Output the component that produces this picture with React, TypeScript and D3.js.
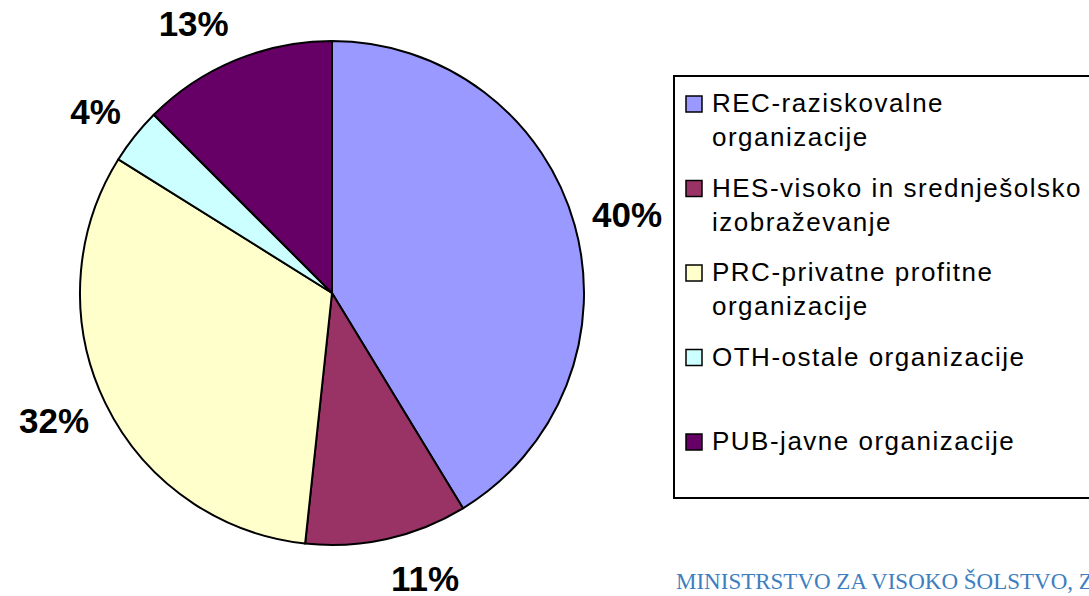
import React from 'react';
import * as d3 from 'd3';

// share of R&D per sector (labels are the printed ones)
const categories = ['REC', 'HES', 'PRC', 'OTH', 'PUB'];
const shares = [41.3, 10.4, 32.2, 3.6, 12.5];
const pctLabels = ['40%', '11%', '32%', '4%', '13%'];
const legendLines = [
    ['REC-raziskovalne', 'organizacije'],
    ['HES-visoko in srednješolsko', 'izobraževanje'],
    ['PRC-privatne profitne', 'organizacije'],
    ['OTH-ostale organizacije'],
    ['PUB-javne organizacije'],
];
const colors = ['#9999FF', '#993366', '#FFFFCC', '#CCFFFF', '#660066'];
const footer = 'MINISTRSTVO ZA VISOKO ŠOLSTVO, ZNANOST IN TEHNOLOGIJO';

const W = 1089;
const H = 596;
const cx = 332;
const cy = 293;
const R = 252;

export default function App() {
    const pie = d3.pie<number>().sort(null).value((d) => d);
    const arcs = pie(shares);
    const arc = d3.arc<d3.PieArcDatum<number>>().innerRadius(0).outerRadius(R);
    const color = d3.scaleOrdinal<string, string>().domain(categories).range(colors);

    const legendY = d3.scalePoint<string>().domain(categories).range([112, 450]);

    return (
        <svg
            width={W}
            height={H}
            style={{ position: 'absolute', left: 0, top: 0, background: '#fff' }}
            fontFamily="'Liberation Sans', Arial, sans-serif"
        >
            <g transform={`translate(${cx},${cy})`}>
                {arcs.map((a, i) => (
                    <path
                        key={categories[i]}
                        d={arc(a) || ''}
                        fill={color(categories[i])}
                        stroke="#000"
                        strokeWidth={2}
                        strokeLinejoin="round"
                    />
                ))}
                {arcs.map((a, i) => {
                    // labels sit outside the rim, hanging away from the pie
                    const mid = (a.startAngle + a.endAngle) / 2;
                    const [x] = d3.pointRadial(mid, 270);
                    const [, y] = d3.pointRadial(mid, 292);
                    return (
                        <text
                            key={'l' + i}
                            x={x}
                            y={y}
                            dy="0.36em"
                            textAnchor={Math.sin(mid) >= 0 ? 'start' : 'end'}
                            fontSize={35}
                            fontWeight="bold"
                            fill="#000"
                        >
                            {pctLabels[i]}
                        </text>
                    );
                })}
            </g>

            {/* legend */}
            <rect x={674} y={76} width={440} height={422} fill="#fff" stroke="#000" strokeWidth={2} />
            {categories.map((c, i) => {
                const y = legendY(c) || 0;
                return (
                    <g key={c}>
                        <rect x={686} y={y - 16} width={16} height={16} fill={color(c)} stroke="#000" strokeWidth={1.5} />
                        {legendLines[i].map((t, j) => (
                            <text key={j} x={712} y={y + j * 34} fontSize={26} letterSpacing={1.5} fill="#000">
                                {t}
                            </text>
                        ))}
                    </g>
                );
            })}

            <text
                x={676}
                y={589}
                fontSize={23}
                fill="#3d7ebf"
                fontFamily="'Liberation Serif', 'Times New Roman', serif"
            >
                {footer}
            </text>
        </svg>
    );
}
